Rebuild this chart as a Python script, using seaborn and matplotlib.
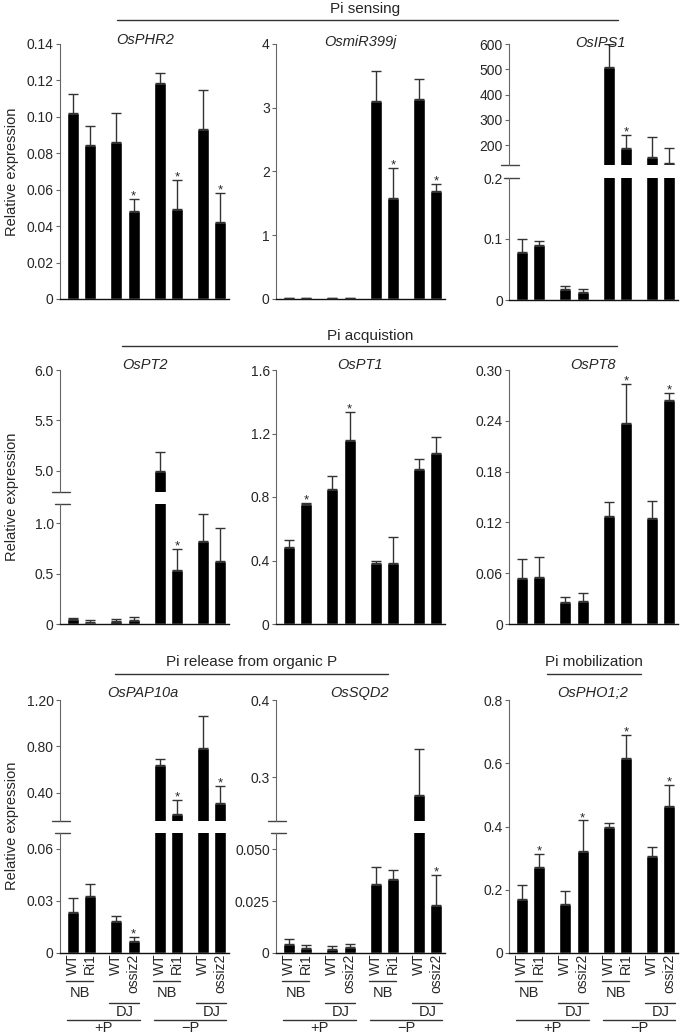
import matplotlib
matplotlib.use('Agg')
import matplotlib.pyplot as plt
import matplotlib.transforms as mtransforms
from matplotlib.lines import Line2D
import numpy as np
import seaborn as sns

sns.set_style('ticks')
plt.rcParams['font.family'] = ['Liberation Sans', 'DejaVu Sans']

# bar positions (two lines per background, four groups)
xpos = [0, 1, 2.5, 3.5, 5, 6, 7.5, 8.5]
genotypes = ['WT', 'Ri1', 'WT', 'ossiz2', 'WT', 'Ri1', 'WT', 'ossiz2']

# mean values, top of error bar, significance flags
phr2 = [0.102, 0.0846, 0.0864, 0.0481, 0.1188, 0.0492, 0.0933, 0.0425]
phr2_err = [0.1126, 0.0952, 0.102, 0.0547, 0.1243, 0.0653, 0.1146, 0.0584]
phr2_sig = [0, 0, 0, 1, 0, 1, 0, 1]

mir399 = [0.02, 0.02, 0.02, 0.02, 3.10, 1.58, 3.13, 1.70]
mir399_err = [0.02, 0.02, 0.02, 0.02, 3.58, 2.05, 3.45, 1.81]
mir399_sig = [0, 0, 0, 0, 0, 1, 0, 1]

ips1 = [0.078, 0.090, 0.0185, 0.0135, 510, 187, 154, 130]
ips1_err = [0.100, 0.097, 0.023, 0.0175, 600, 240, 233, 190]
ips1_sig = [0, 0, 0, 0, 0, 1, 0, 0]

pt2 = [0.046, 0.022, 0.03, 0.04, 5.0, 0.54, 0.82, 0.625]
pt2_err = [0.06, 0.04, 0.05, 0.07, 5.19, 0.74, 1.09, 0.95]
pt2_sig = [0, 0, 0, 0, 0, 1, 0, 0]

pt1 = [0.487, 0.754, 0.849, 1.16, 0.387, 0.387, 0.975, 1.08]
pt1_err = [0.53, 0.763, 0.935, 1.334, 0.395, 0.55, 1.04, 1.176]
pt1_sig = [0, 1, 0, 1, 0, 0, 0, 0]

pt8 = [0.054, 0.055, 0.0264, 0.0276, 0.127, 0.237, 0.125, 0.265]
pt8_err = [0.077, 0.079, 0.0315, 0.037, 0.1445, 0.283, 0.1457, 0.273]
pt8_sig = [0, 0, 0, 0, 0, 1, 0, 1]

pap10a = [0.0234, 0.0328, 0.0186, 0.0072, 0.645, 0.22, 0.79, 0.31]
pap10a_err = [0.032, 0.040, 0.0215, 0.0095, 0.69, 0.342, 1.06, 0.458]
pap10a_sig = [0, 0, 0, 1, 0, 1, 0, 1]

sqd2 = [0.0045, 0.0024, 0.0021, 0.0027, 0.0332, 0.0354, 0.277, 0.0232]
sqd2_err = [0.0069, 0.0037, 0.0032, 0.0045, 0.0413, 0.0397, 0.336, 0.0376]
sqd2_sig = [0, 0, 0, 0, 0, 0, 0, 1]

pho1 = [0.17, 0.271, 0.155, 0.321, 0.40, 0.616, 0.307, 0.465]
pho1_err = [0.215, 0.314, 0.196, 0.419, 0.41, 0.688, 0.336, 0.532]
pho1_sig = [0, 1, 0, 1, 0, 1, 0, 1]

W, H = 685, 1036
fig = plt.figure(figsize=(W / 100, H / 100), dpi=100)
fig.patch.set_facecolor('white')

SPINE = '#666666'
ERR = '#333333'


def add_ax(left, top, width, height):
    return fig.add_axes([left / W, 1 - (top + height) / H, width / W, height / H])


def draw_panel(ax, vals, errs, sig, ylim, ticks, labels, bottom=True):
    sns.barplot(x=xpos, y=vals, native_scale=True, orient='x', color='black',
                saturation=1, width=0.7, errorbar=None, ax=ax, zorder=2)
    ax.set_xlim(-0.75, 9.0)
    ax.set_ylim(ylim)
    ax.set_yticks(ticks)
    ax.set_yticklabels(labels)
    ax.set_xticks(xpos)
    ax.set_xticklabels([])
    ax.set_xlabel('')
    ax.set_ylabel('')
    sns.despine(ax=ax, bottom=not bottom)
    ax.spines['left'].set_color(SPINE)
    ax.spines['left'].set_linewidth(0.8)
    ax.spines['bottom'].set_color('#111111')
    ax.spines['bottom'].set_linewidth(1.0)
    ax.tick_params(axis='y', length=3, width=0.8, color=SPINE, labelsize=10, pad=1.5)
    ax.tick_params(axis='x', length=0)
    ax.patch.set_alpha(0)
    v = np.array(vals)
    e = np.array(errs)
    ax.errorbar(xpos, v, yerr=[np.zeros_like(v), e - v], fmt='none', ecolor=ERR,
                elinewidth=1, capsize=3.6, capthick=1, zorder=3)
    for x, top, s in zip(xpos, errs, sig):
        if s and ylim[0] <= top <= ylim[1]:
            ax.annotate('*', (x, top), xytext=(0, -2.5), textcoords='offset points',
                        ha='center', va='bottom', fontsize=9.5)


def break_marks(ax, where):
    y = 0 if where == 'bottom' else 1
    x0 = -0.047 if where == 'bottom' else -0.03
    ax.plot([x0, 0.059], [y, y], transform=ax.transAxes, color='#444444',
            lw=1, clip_on=False)


C1, C2, C3, WD = 60, 276, 509, 169

# ---- row 1: Pi sensing
ax = add_ax(C1, 44, WD, 255)
draw_panel(ax, phr2, phr2_err, phr2_sig, (0, 0.14),
           [0, 0.02, 0.04, 0.06, 0.08, 0.10, 0.12, 0.14],
           ['0', '0.02', '0.04', '0.06', '0.08', '0.10', '0.12', '0.14'])
ax = add_ax(C2, 44, WD, 255)
draw_panel(ax, mir399, mir399_err, mir399_sig, (0, 4), [0, 1, 2, 3, 4],
           ['0', '1', '2', '3', '4'])
ax = add_ax(C3, 44, WD, 121)
draw_panel(ax, ips1, ips1_err, ips1_sig, (121, 600), [200, 300, 400, 500, 600],
           ['200', '300', '400', '500', '600'], bottom=False)
break_marks(ax, 'bottom')
ax = add_ax(C3, 178, WD, 122)
draw_panel(ax, ips1, ips1_err, ips1_sig, (0, 0.2), [0, 0.1, 0.2], ['0', '0.1', '0.2'])
break_marks(ax, 'top')

# ---- row 2: Pi acquisition
ax = add_ax(C1, 370, WD, 122)
draw_panel(ax, pt2, pt2_err, pt2_sig, (4.79, 6.0), [5.0, 5.5, 6.0],
           ['5.0', '5.5', '6.0'], bottom=False)
break_marks(ax, 'bottom')
ax = add_ax(C1, 504, WD, 120)
draw_panel(ax, pt2, pt2_err, pt2_sig, (0, 1.19), [0, 0.5, 1.0], ['0', '0.5', '1.0'])
break_marks(ax, 'top')
ax = add_ax(C2, 370, WD, 254)
draw_panel(ax, pt1, pt1_err, pt1_sig, (0, 1.6), [0, 0.4, 0.8, 1.2, 1.6],
           ['0', '0.4', '0.8', '1.2', '1.6'])
ax = add_ax(C3, 370, WD, 254)
draw_panel(ax, pt8, pt8_err, pt8_sig, (0, 0.30), [0, 0.06, 0.12, 0.18, 0.24, 0.30],
           ['0', '0.06', '0.12', '0.18', '0.24', '0.30'])

# ---- row 3: Pi release / mobilization
bottom_axes = []
ax = add_ax(C1, 700, WD, 121)
draw_panel(ax, pap10a, pap10a_err, pap10a_sig, (0.159, 1.2), [0.40, 0.80, 1.20],
           ['0.40', '0.80', '1.20'], bottom=False)
break_marks(ax, 'bottom')
ax = add_ax(C1, 833, WD, 120)
draw_panel(ax, pap10a, pap10a_err, pap10a_sig, (0, 0.0692), [0, 0.03, 0.06],
           ['0', '0.03', '0.06'])
break_marks(ax, 'top')
bottom_axes.append(ax)
ax = add_ax(C2, 700, WD, 121)
draw_panel(ax, sqd2, sqd2_err, sqd2_sig, (0.243, 0.4), [0.3, 0.4], ['0.3', '0.4'],
           bottom=False)
break_marks(ax, 'bottom')
ax = add_ax(C2, 833, WD, 120)
draw_panel(ax, sqd2, sqd2_err, sqd2_sig, (0, 0.0577), [0, 0.025, 0.050],
           ['0', '0.025', '0.050'])
break_marks(ax, 'top')
bottom_axes.append(ax)
ax = add_ax(C3, 700, WD, 253)
draw_panel(ax, pho1, pho1_err, pho1_sig, (0, 0.8), [0, 0.2, 0.4, 0.6, 0.8],
           ['0', '0.2', '0.4', '0.6', '0.8'])
bottom_axes.append(ax)


def fy(y):
    return 1 - y / H


# genotype labels and grouping brackets under the bottom row
for ax in bottom_axes:
    ax.set_xticklabels(genotypes, rotation=90, fontsize=10)
    ax.tick_params(axis='x', pad=0.5)
    tr = mtransforms.blended_transform_factory(ax.transData, fig.transFigure)
    for i, name, ly, ty in [(0, 'NB', 981, 993), (2, 'DJ', 1003, 1012),
                            (4, 'NB', 981, 993), (6, 'DJ', 1003, 1012)]:
        x0, x1 = xpos[i], xpos[i + 1]
        ax.plot([x0 - 0.4, x1 + (0.15 if name == 'NB' else 0.3)], [fy(ly)] * 2,
                transform=tr, color='#333333', lw=1, clip_on=False)
        ax.text((x0 + x1) / 2 - (0.1 if name == 'NB' else 0), fy(ty), name,
                transform=tr, ha='center', va='center', fontsize=10.5)
    for i0, i1, name in [(0, 3, '+P'), (4, 7, '\u2212P')]:
        ax.plot([xpos[i0] - 0.35, xpos[i1] + 0.35], [fy(1020)] * 2, transform=tr,
                color='#333333', lw=1, clip_on=False)
        ax.text((xpos[i0] + xpos[i1]) / 2, fy(1028.5), name, transform=tr,
                ha='center', va='center', fontsize=10.5)

# header brackets
for text, tx, ty, x0, x1, ly in [('Pi sensing', 365, 9, 117, 618, 20),
                                  ('Pi acquistion', 370, 336, 122, 617, 346),
                                  ('Pi release from organic P', 252, 662, 115, 388, 674),
                                  ('Pi mobilization', 594, 662, 547, 641, 674)]:
    fig.text(tx / W, fy(ty), text, ha='center', va='center', fontsize=11)
    fig.add_artist(Line2D([x0 / W, x1 / W], [fy(ly)] * 2, transform=fig.transFigure,
                          color='#333333', lw=1))

# gene names
for name, gx, gy in [('OsPHR2', 145, 40), ('OsmiR399j', 360, 42), ('OsIPS1', 600, 43),
                     ('OsPT2', 145, 365), ('OsPT1', 360, 365), ('OsPT8', 593, 365),
                     ('OsPAP10a', 143, 693), ('OsSQD2', 360, 693), ('OsPHO1;2', 593, 693)]:
    fig.text(gx / W, fy(gy), name, ha='center', va='center', fontsize=10.5,
             style='italic')

for yc in [172, 497, 826]:
    fig.text(12 / W, fy(yc), 'Relative expression', rotation=90, ha='center',
             va='center', fontsize=10.5)

fig.savefig('out.png', dpi=100)
